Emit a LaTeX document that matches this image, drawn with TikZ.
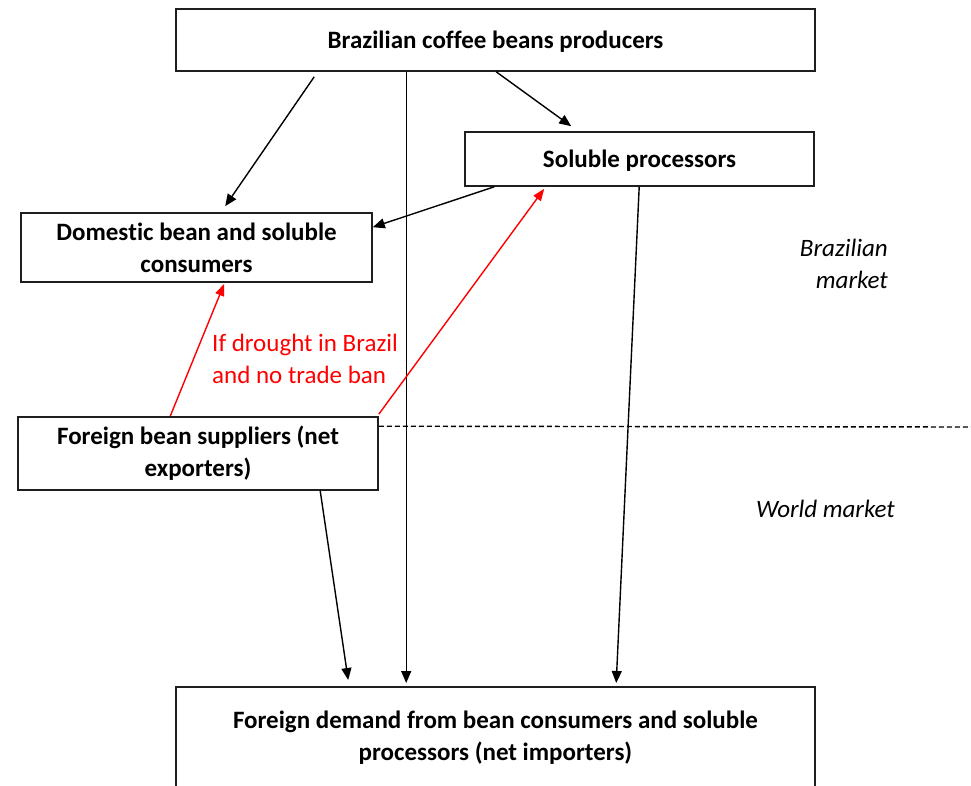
\documentclass[tikz,border=0pt]{standalone}
\usepackage{fontspec}
\setmainfont{Carlito}[Ligatures={NoCommon,NoRare}]
\usetikzlibrary{arrows.meta,calc}
\definecolor{boxline}{HTML}{1E1E1E}
\tikzset{
  boxnode/.style={draw=boxline, line width=1.6pt, fill=white, inner sep=0pt, align=center,
     font=\bfseries\fontsize{25}{32}\selectfont},
  arr/.style={-{Triangle[length=12pt,width=10pt]}, line width=1.4pt, black},
  redarr/.style={-{Triangle[length=12pt,width=9pt]}, line width=1.4pt, red},
  italabel/.style={font=\itshape\fontsize{25}{32}\selectfont, align=right, inner sep=0pt},
  redlabel/.style={font=\fontsize{25}{32}\selectfont, text=red, align=left, inner sep=0pt},
}
\begin{document}
\begin{tikzpicture}[x=1pt,y=-1pt]
\clip (0,0) rectangle (971,785);
\useasboundingbox (0,0) rectangle (971,785);

% boxes
\node[boxnode, minimum width=639pt, minimum height=62pt, text depth=0pt] (top) at (495.5,40) {Brazilian coffee beans producers};
\node[boxnode, minimum width=349pt, minimum height=54pt, text depth=0pt] (sol) at (639.5,159) {Soluble processors};
\node[boxnode, minimum width=351pt, minimum height=69pt] (dom) at (196.5,247.5) {Domes\kern0pt tic bean and soluble\\consumers};
\node[boxnode, minimum width=360pt, minimum height=73pt] (fb) at (198,453.5) {Foreign bean suppliers (net\\exporters)};
\node[boxnode, minimum width=639pt, minimum height=140pt, anchor=north] (bot) at (495.5,686) {};
\node[font=\bfseries\fontsize{25}{32}\selectfont, align=center, inner sep=0pt] (bottxt) at (495.5,738) {Foreign demand from bean consumers and soluble\\processors (net importers)};

% labels
\node[italabel, anchor=east] (bm) at (888,264) {Brazilian\\market};
\node[italabel, anchor=east] (wm) at (895,509) {World market};
\node[redlabel, anchor=west] (cond) at (212,359) {If drought in Brazil\\and no trade ban};

% dashed separator
\coordinate (dashend) at (975,427);
\draw[dashed, dash pattern=on 5pt off 3pt, line width=1.4pt] ($(fb.north east)+(0,10)$) -- (dashend);

% black arrows
\draw[arr] ($(top.south west)+(139,5)$) -- ($(dom.north west)+(205,-6)$);
\draw[arr] ($(top.south west)+(321,0)$) -- ($(sol.north west)+(107,-5)$);
\draw[arr] ($(sol.south west)+(30,0)$) -- ($(dom.north east)+(0,15)$);
\draw[arr] ($(sol.south west)+(175,0)$) -- ($(bot.north west)+(441,-3)$);
\draw[arr] ($(top.south west)+(231,0)$) -- ($(bot.north west)+(231,-3)$);
\draw[arr] ($(fb.south west)+(303,0)$) -- ($(bot.north west)+(173,-6)$);

% red arrows
\draw[redarr] ($(fb.north west)+(153,0)$) -- ($(dom.south west)+(204,1)$);
\draw[redarr] ($(fb.north east)+(0,-2)$) -- ($(sol.south west)+(80,2)$);
\end{tikzpicture}
\end{document}
